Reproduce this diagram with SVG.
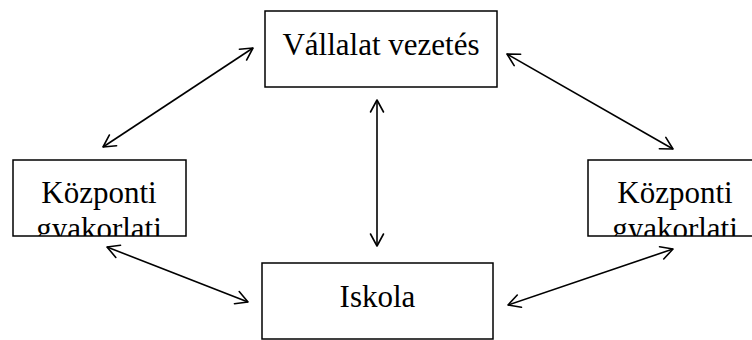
<svg xmlns="http://www.w3.org/2000/svg" width="752" height="340" viewBox="0 0 752 340">
  <style>
    .box { fill: #ffffff; stroke: #000000; stroke-width: 1.5; }
    .label { font-family: "Liberation Serif", "Times New Roman", serif; font-size: 31px; fill: #000000; text-anchor: middle; }
    .link { stroke: #000000; stroke-width: 1.6; fill: none; marker-start: url(#head); marker-end: url(#head); }
  </style>
  <defs>
    <marker id="head" markerUnits="userSpaceOnUse" markerWidth="16" markerHeight="16" viewBox="-14 -8 16 16" refX="0" refY="0" orient="auto-start-reverse">
      <path d="M -12 -6.5 L 0 0 L -12 6.5" fill="none" stroke="#000000" stroke-width="1.6" stroke-linecap="round" stroke-linejoin="round"/>
    </marker>
    <clipPath id="clipLeft"><rect x="13" y="160" width="173" height="76"/></clipPath>
    <clipPath id="clipRight"><rect x="588" y="160" width="173" height="76"/></clipPath>
  </defs>

  <rect width="752" height="340" fill="#ffffff"/>

  <g id="connectors">
    <line class="link" x1="103" y1="147" x2="253" y2="48"/>
    <line class="link" x1="507" y1="54" x2="673" y2="149"/>
    <line class="link" x1="377" y1="100" x2="377" y2="246"/>
    <line class="link" x1="107" y1="247" x2="248" y2="302"/>
    <line class="link" x1="508" y1="305" x2="673" y2="249"/>
  </g>

  <g id="vallalat">
    <rect class="box" x="265" y="11" width="232" height="76"/>
    <text class="label" x="381" y="55">Vállalat vezetés</text>
  </g>

  <g id="kozponti-left">
    <rect class="box" x="13" y="160" width="173" height="76"/>
    <text class="label" x="99" y="203" clip-path="url(#clipLeft)">Központi<tspan x="99" dy="36">gyakorlati</tspan></text>
  </g>

  <g id="kozponti-right">
    <rect class="box" x="588" y="160" width="173" height="76"/>
    <text class="label" x="675" y="203" clip-path="url(#clipRight)">Központi<tspan x="675" dy="36">gyakorlati</tspan></text>
  </g>

  <g id="iskola">
    <rect class="box" x="262" y="263" width="231" height="76"/>
    <text class="label" x="377.5" y="307">Iskola</text>
  </g>
</svg>
